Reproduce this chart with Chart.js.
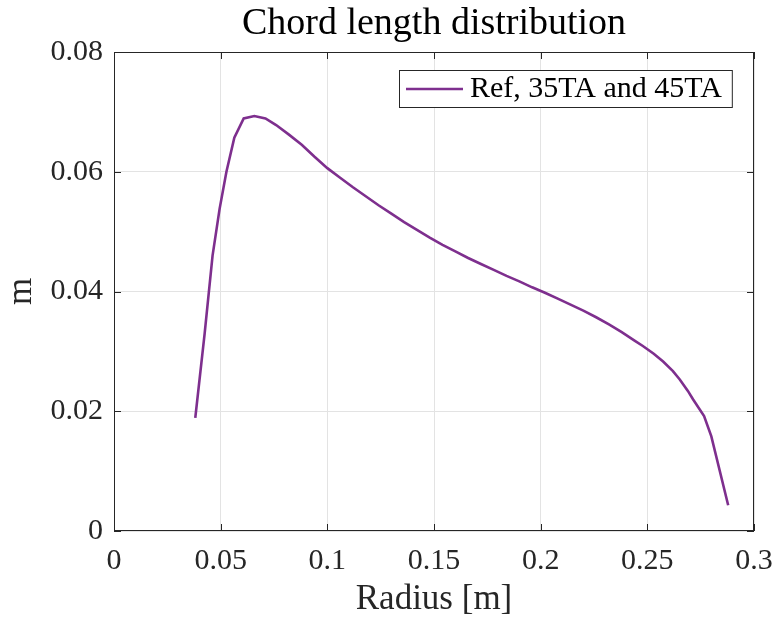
<!DOCTYPE html>
<html>
<head>
<meta charset="utf-8">
<script src="https://cdn.jsdelivr.net/npm/chart.js@4/dist/chart.umd.min.js"></script>
<style>
  html, body { margin: 0; padding: 0; background: #fff; }
  #wrap { width: 774px; height: 618px; }
</style>
</head>
<body>
<div id="wrap"><canvas id="myChart" width="774" height="618"></canvas></div>
<script>
// radius [m] and chord length [m]
var radius = [0.0381, 0.0425, 0.0462, 0.0495, 0.0527, 0.0564, 0.0608, 0.0658, 0.0710, 0.0760,
              0.0820, 0.0880, 0.0940, 0.1000, 0.1060, 0.1120, 0.1180, 0.1240, 0.1300, 0.1360,
              0.1420, 0.1480, 0.1540, 0.1600, 0.1660, 0.1720, 0.1780, 0.1840, 0.1900, 0.1960,
              0.2020, 0.2080, 0.2140, 0.2200, 0.2260, 0.2320, 0.2380, 0.2440, 0.2479, 0.2530,
              0.2574, 0.2620, 0.2652, 0.2690, 0.2714, 0.2766, 0.2800, 0.2879];
var chord = [0.0189, 0.0330, 0.0460, 0.0538, 0.0600, 0.0657, 0.0689, 0.0693, 0.0689, 0.0678,
             0.0662, 0.0645, 0.0625, 0.0606, 0.0590, 0.0574, 0.0559, 0.0544, 0.0530, 0.0516,
             0.0503, 0.0490, 0.0478, 0.0467, 0.0456, 0.0446, 0.0436, 0.0426, 0.0417, 0.0407,
             0.0398, 0.0388, 0.0378, 0.0368, 0.0357, 0.0345, 0.0332, 0.0318, 0.0309, 0.0296,
             0.0283, 0.0267, 0.0253, 0.0234, 0.0220, 0.0192, 0.0158, 0.0043];
var seriesName = 'Ref, 35TA and 45TA';
var chartTitle = 'Chord length distribution';
var xTicks = [0, 0.05, 0.1, 0.15, 0.2, 0.25, 0.3];
var yTicks = [0, 0.02, 0.04, 0.06, 0.08];

var serif = "'Liberation Serif', 'DejaVu Serif', serif";
var axisCol = '#262626';

var points = radius.map(function (r, i) { return { x: r, y: chord[i] }; });

function fmt(v) { return String(Number(v.toFixed(3))); }

// matlab-like box with inward ticks, title over the axes, and the legend
var boxPlugin = {
  id: 'box',
  afterDraw: function (chart) {
    var ctx = chart.ctx, a = chart.chartArea;
    var xs = chart.scales.x, ys = chart.scales.y;
    ctx.save();
    ctx.strokeStyle = axisCol;
    ctx.lineWidth = 1;
    ctx.strokeRect(a.left + 0.5, a.top + 0.5, a.right - a.left - 1, a.bottom - a.top - 1);
    ctx.beginPath();
    xTicks.forEach(function (t) {
      var px = Math.round(xs.getPixelForValue(t)) + 0.5;
      ctx.moveTo(px, a.bottom); ctx.lineTo(px, a.bottom - 7);
      ctx.moveTo(px, a.top); ctx.lineTo(px, a.top + 7);
    });
    yTicks.forEach(function (t) {
      var py = Math.round(ys.getPixelForValue(t)) + 0.5;
      ctx.moveTo(a.left, py); ctx.lineTo(a.left + 7, py);
      ctx.moveTo(a.right, py); ctx.lineTo(a.right - 7, py);
    });
    ctx.stroke();

    // title
    ctx.fillStyle = '#000';
    ctx.font = '38px ' + serif;
    ctx.textAlign = 'center';
    ctx.textBaseline = 'middle';
    ctx.fillText(chartTitle, (a.left + a.right) / 2, 24);

    // legend
    var ds = chart.data.datasets[0];
    ctx.font = '30px ' + serif;
    ctx.textAlign = 'left';
    var tw = ctx.measureText(ds.label).width;
    var bx = 399, by = 70, bw = 470 - bx + tw + 10, bh = 37;
    ctx.fillStyle = '#fff';
    ctx.fillRect(bx, by, bw, bh);
    ctx.strokeStyle = axisCol;
    ctx.strokeRect(bx + 0.5, by + 0.5, bw, bh);
    ctx.strokeStyle = ds.borderColor;
    ctx.lineWidth = 2.5;
    ctx.beginPath();
    ctx.moveTo(406, by + bh / 2 + 0.5); ctx.lineTo(463, by + bh / 2 + 0.5);
    ctx.stroke();
    ctx.fillStyle = '#000';
    ctx.fillText(ds.label, 470, by + bh / 2 + 1);
    ctx.restore();
  }
};

new Chart(document.getElementById('myChart'), {
  type: 'line',
  data: {
    datasets: [{
      label: seriesName,
      data: points,
      borderColor: '#7E2F8E',
      backgroundColor: '#7E2F8E',
      borderWidth: 2.6,
      pointRadius: 0,
      tension: 0,
      fill: false
    }]
  },
  options: {
    responsive: false,
    animation: false,
    devicePixelRatio: 1,
    layout: { padding: { left: 0, right: 20, top: 52, bottom: 0 } },
    plugins: {
      legend: { display: false },
      tooltip: { enabled: false },
      title: { display: false }
    },
    scales: {
      x: {
        type: 'linear',
        min: 0, max: 0.3,
        afterFit: function (s) { s.height = 87; s.paddingLeft = 0; s.paddingRight = 0; },
        afterBuildTicks: function (s) { s.ticks = xTicks.map(function (v) { return { value: v }; }); },
        ticks: {
          color: axisCol,
          font: { family: serif, size: 30 },
          padding: 12,
          maxRotation: 0,
          callback: function (v) { return fmt(v); }
        },
        grid: { color: '#e3e3e3', drawTicks: false },
        border: { display: false },
        title: {
          display: true, text: 'Radius [m]', color: axisCol,
          font: { family: serif, size: 35, lineHeight: 1 },
          padding: { top: 0, bottom: 1 }
        }
      },
      y: {
        type: 'linear',
        min: 0, max: 0.08,
        afterFit: function (s) { s.width = 114; s.paddingTop = 0; s.paddingBottom = 0; },
        afterBuildTicks: function (s) { s.ticks = yTicks.map(function (v) { return { value: v }; }); },
        ticks: {
          color: axisCol,
          font: { family: serif, size: 30 },
          padding: 11,
          callback: function (v) { return fmt(v); }
        },
        grid: { color: '#e3e3e3', drawTicks: false },
        border: { display: false },
        title: {
          display: true, text: 'm', color: axisCol,
          font: { family: serif, size: 35, lineHeight: 1 },
          padding: { top: 4, bottom: 0 }
        }
      }
    }
  },
  plugins: [boxPlugin]
});
</script>
</body>
</html>
